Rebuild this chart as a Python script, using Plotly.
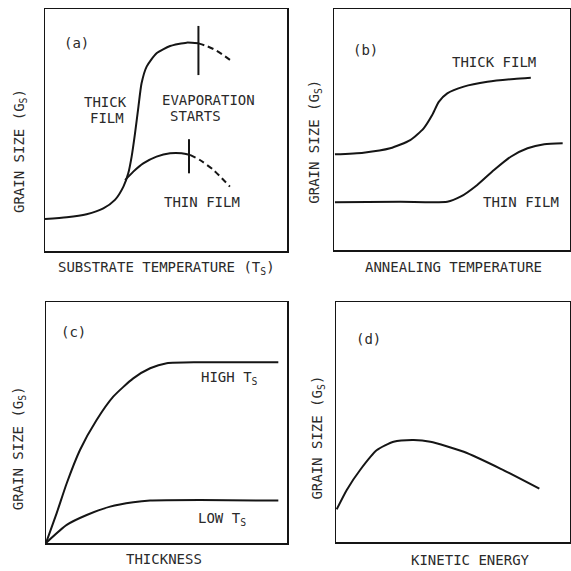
import plotly.graph_objects as go

W = H = 571
FONT = "DejaVu Sans Mono"
LINE = "#151515"
TXT = "#2a2a2a"

# ---- panel (a): substrate temperature ----
a_thick_x = [0.0, 0.090, 0.172, 0.241, 0.289, 0.324, 0.344, 0.358, 0.372, 0.386, 0.399, 0.420, 0.461, 0.517, 0.585, 0.634]
a_thick_y = [0.132, 0.139, 0.152, 0.176, 0.211, 0.266, 0.321, 0.390, 0.486, 0.596, 0.693, 0.762, 0.817, 0.847, 0.861, 0.858]
a_thick_dash_x = [0.634, 0.668, 0.709, 0.771]
a_thick_dash_y = [0.858, 0.847, 0.828, 0.785]
a_thin_x = [0.331, 0.365, 0.406, 0.461, 0.517, 0.565, 0.599]
a_thin_y = [0.293, 0.328, 0.362, 0.390, 0.404, 0.404, 0.397]
a_thin_dash_x = [0.599, 0.640, 0.696, 0.764]
a_thin_dash_y = [0.397, 0.376, 0.335, 0.266]
a_tick_thick_x = [0.634, 0.634]
a_tick_thick_y = [0.930, 0.727]
a_tick_thin_x = [0.595, 0.595]
a_tick_thin_y = [0.462, 0.321]

# ---- panel (b): annealing temperature ----
b_thick_x = [0.004, 0.125, 0.238, 0.323, 0.380, 0.416, 0.444, 0.480, 0.550, 0.650, 0.763, 0.834]
b_thick_y = [0.397, 0.404, 0.422, 0.456, 0.505, 0.560, 0.615, 0.650, 0.678, 0.698, 0.710, 0.715]
b_thin_x = [0.004, 0.281, 0.480, 0.536, 0.607, 0.678, 0.749, 0.820, 0.891, 0.969]
b_thin_y = [0.198, 0.200, 0.200, 0.221, 0.270, 0.332, 0.387, 0.422, 0.439, 0.443]

# ---- panel (c): thickness ----
c_high_x = [0.0, 0.044, 0.086, 0.141, 0.210, 0.279, 0.362, 0.432, 0.501, 0.639, 0.964]
c_high_y = [0.0, 0.123, 0.248, 0.386, 0.510, 0.607, 0.683, 0.725, 0.746, 0.750, 0.750]
c_low_x = [0.0, 0.086, 0.169, 0.266, 0.362, 0.432, 0.639, 0.964]
c_low_y = [0.0, 0.075, 0.116, 0.151, 0.169, 0.176, 0.178, 0.176]

# ---- panel (d): kinetic energy ----
d_x = [0.003, 0.046, 0.103, 0.175, 0.246, 0.332, 0.403, 0.546, 0.704, 0.869]
d_y = [0.136, 0.217, 0.300, 0.383, 0.418, 0.425, 0.418, 0.376, 0.305, 0.222]

# panel boxes in pixels: (left, top, right, bottom)
boxes = {
    "a": (45, 9, 287, 251),
    "b": (334, 9, 570, 250),
    "c": (46, 302, 287, 543),
    "d": (336, 302, 570, 542),
}

fig = go.Figure()
axis_ids = {"a": ("x", "y"), "b": ("x2", "y2"), "c": ("x3", "y3"), "d": ("x4", "y4")}

def add_line(p, xs, ys, dash="solid", width=2):
    xa, ya = axis_ids[p]
    fig.add_trace(go.Scatter(x=xs, y=ys, mode="lines", xaxis=xa, yaxis=ya,
                             line=dict(color=LINE, width=width, dash=dash, shape="spline", smoothing=0.6),
                             hoverinfo="skip", showlegend=False))

add_line("a", a_thick_x, a_thick_y)
add_line("a", a_thick_dash_x, a_thick_dash_y, dash="6px,4px")
add_line("a", a_thin_x, a_thin_y)
add_line("a", a_thin_dash_x, a_thin_dash_y, dash="6px,4px")
add_line("a", a_tick_thick_x, a_tick_thick_y, width=2)
add_line("a", a_tick_thin_x, a_tick_thin_y, width=2)
add_line("b", b_thick_x, b_thick_y)
add_line("b", b_thin_x, b_thin_y)
add_line("c", c_high_x, c_high_y)
add_line("c", c_low_x, c_low_y)
add_line("d", d_x, d_y)

layout = dict(width=W, height=H, margin=dict(l=0, r=0, t=0, b=0),
              paper_bgcolor="white", plot_bgcolor="white", showlegend=False)

for i, p in enumerate(["a", "b", "c", "d"]):
    l, t, r, b = boxes[p]
    sfx = "" if i == 0 else str(i + 1)
    common = dict(range=[0, 1], showgrid=False, zeroline=False, showticklabels=False,
                  ticks="", showline=True, linecolor=LINE, linewidth=1.5, mirror=True, fixedrange=True)
    layout["xaxis" + sfx] = dict(domain=[l / W, r / W], anchor="y" + sfx, **common)
    layout["yaxis" + sfx] = dict(domain=[1 - b / H, 1 - t / H], anchor="x" + sfx, **common)

fig.update_layout(**layout)

def note(p, x, y, text, size=14):
    xa, ya = axis_ids[p]
    fig.add_annotation(x=x, y=y, xref=xa, yref=ya, text=text, showarrow=False,
                       xanchor="center", yanchor="middle",
                       font=dict(family=FONT, size=size, color=TXT))

def pnote(px, py, text, angle=0, size=14):
    fig.add_annotation(x=px / W, y=1 - py / H, xref="paper", yref="paper", text=text,
                       showarrow=False, textangle=angle, xanchor="center", yanchor="middle",
                       font=dict(family=FONT, size=size, color=TXT))

# panel labels and curve labels
note("a", 0.131, 0.861, "(a)")
note("a", 0.252, 0.617, "THICK")
note("a", 0.257, 0.548, "FILM")
note("a", 0.675, 0.626, "EVAPORATION")
note("a", 0.620, 0.558, "STARTS")
note("a", 0.647, 0.204, "THIN FILM")

note("b", 0.132, 0.828, "(b)")
note("b", 0.678, 0.781, "THICK FILM")
note("b", 0.791, 0.200, "THIN FILM")

note("c", 0.116, 0.875, "(c)")
note("c", 0.763, 0.683, "HIGH T<sub>S</sub>")
note("c", 0.729, 0.098, "LOW T<sub>S</sub>")

note("d", 0.139, 0.845, "(d)")

# axis titles
pnote(166.7, 268, "SUBSTRATE TEMPERATURE (T<sub>S</sub>)")
pnote(453.3, 266.7, "ANNEALING TEMPERATURE")
pnote(164, 559.3, "THICKNESS")
pnote(470, 560, "KINETIC ENERGY")

gs = "GRAIN SIZE (G<sub>S</sub>)"
pnote(20, 151, gs, angle=-90)
pnote(315, 141.7, gs, angle=-90)
pnote(19, 448.3, gs, angle=-90)
pnote(318.3, 437.3, gs, angle=-90)

fig.write_html("out.html", config={"displayModeBar": False, "staticPlot": True},
               post_script="document.body.style.margin='0';document.body.style.padding='0';")
